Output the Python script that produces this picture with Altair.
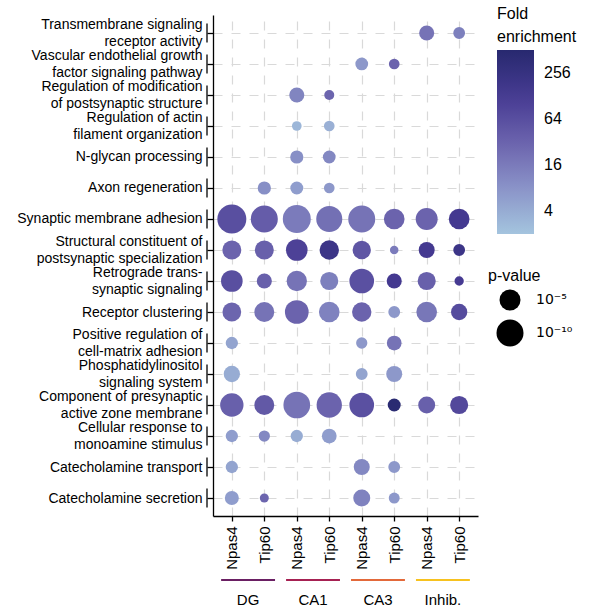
import altair as alt
import pandas as pd

FONT = "Liberation Sans"

# GO terms, top to bottom ("\n" marks where a label wraps)
terms = [
    "Transmembrane signaling\nreceptor activity",
    "Vascular endothelial growth\nfactor signaling pathway",
    "Regulation of modification\nof postsynaptic structure",
    "Regulation of actin\nfilament organization",
    "N-glycan processing",
    "Axon regeneration",
    "Synaptic membrane adhesion",
    "Structural constituent of\npostsynaptic specialization",
    "Retrograde trans-\nsynaptic signaling",
    "Receptor clustering",
    "Positive regulation of\ncell-matrix adhesion",
    "Phosphatidylinositol\nsignaling system",
    "Component of presynaptic\nactive zone membrane",
    "Cellular response to\nmonoamine stimulus",
    "Catecholamine transport",
    "Catecholamine secretion",
]

# comparison columns, left to right
regions = ["DG", "DG", "CA1", "CA1", "CA3", "CA3", "Inhib.", "Inhib."]
genes = ["Npas4", "Tip60", "Npas4", "Tip60", "Npas4", "Tip60", "Npas4", "Tip60"]

groups = ["DG", "CA1", "CA3", "Inhib."]
group_colors = ["#6a1f63", "#a62152", "#e3693a", "#f7c21f"]

N = None
# fold enrichment per term (rows) and column
fold = [
    [N, N, N, N, N, N, 20, 14],
    [N, N, N, N, 7, 32, N, N],
    [N, N, 12, 30, N, N, N, N],
    [N, N, 3, 3.5, N, N, N, N],
    [N, N, 9, 11, N, N, N, N],
    [N, 9, 6, 7, N, N, N, N],
    [64, 40, 16, 22, 20, 32, 32, 140],
    [32, 36, 100, 200, 50, 16, 140, 200],
    [64, 36, 20, 14, 60, 140, 36, 128],
    [30, 20, 32, 13, 32, 7, 18, 70],
    [5, N, N, N, 7, 20, N, N],
    [4, N, N, N, 5, 7, N, N],
    [36, 45, 20, 32, 60, 450, 36, 80],
    [6, 11, 4, 6, N, N, N, N],
    [5, N, N, N, 11, 7, N, N],
    [6, 30, N, N, 13, 7, N, N],
]

# -log10(p-value) per term (rows) and column
neg_log_p = [
    [N, N, N, N, N, N, 2.4, 1.6],
    [N, N, N, N, 1.8, 1.4, N, N],
    [N, N, 2.4, 1.3, N, N, N, N],
    [N, N, 1.25, 1.4, N, N, N, N],
    [N, N, 1.9, 1.8, N, N, N, N],
    [N, 1.9, 1.85, 1.4, N, N, N, N],
    [12.4, 10.0, 11.1, 9.0, 10.0, 4.8, 5.6, 4.8],
    [3.9, 3.9, 5.4, 4.1, 3.6, 1.1, 2.7, 1.6],
    [5.4, 2.4, 4.6, 3.5, 7.7, 2.4, 3.5, 1.2],
    [3.8, 4.4, 6.9, 4.8, 4.1, 1.6, 4.8, 2.8],
    [1.7, N, N, N, 1.5, 2.3, N, N],
    [2.8, N, N, N, 1.6, 2.7, N, N],
    [6.6, 4.4, 9.7, 8.3, 7.7, 1.85, 3.05, 3.5],
    [1.7, 1.5, 1.7, 2.3, N, N, N, N],
    [1.7, N, N, N, 2.7, 1.6, N, N],
    [2.1, 1.16, N, N, 3.05, 1.45, N, N],
]

rows = []
for i, term in enumerate(terms):
    for j in range(len(genes)):
        if fold[i][j] is not None:
            rows.append({"term": term, "col": j, "fold": fold[i][j],
                         "nlp": neg_log_p[i][j]})
df_points = pd.DataFrame(rows)
df_terms = pd.DataFrame({"term": terms})

# each region spans its two columns; bar overhangs a little on both sides
grp_rows = []
for g, name in enumerate(groups):
    first = 2 * g
    grp_rows.append({"group": name, "hex": group_colors[g],
                     "start": first - 0.33, "end": first + 1 + 0.33,
                     "mid": first + 0.5})
df_groups = pd.DataFrame(grp_rows)

W, H = 265, 501
PAD = 0.58
LINE_H = 17
gene_expr = "[" + ",".join("'%s'" % g for g in genes) + "][datum.value]"

x_scale = alt.Scale(domain=[-PAD, len(genes) - 1 + PAD], nice=False, zero=False)
x_axis = alt.Axis(values=list(range(len(genes))), labelExpr=gene_expr,
                  labelAngle=270, labelAlign="right", labelBaseline="middle",
                  labelFontSize=15, labelPadding=5,
                  labelOverlap=False, tickSize=5, grid=True)

# two-line labels are lifted by half a line so the block centres on its tick
wrapped_offset = {
    "condition": {"test": "indexof(datum.value, '\\n') >= 0",
                  "value": -LINE_H / 2},
    "value": 0,
}
y_axis = alt.Axis(labelExpr="split(datum.label, '\\n')",
                  labelFontSize=14, labelLineHeight=LINE_H,
                  labelLimit=400, labelOverlap=False,
                  labelOffset=wrapped_offset,
                  labelPadding=5, tickSize=6, grid=True)

points = alt.Chart(df_points).mark_circle(opacity=1).encode(
    x=alt.X("col:Q", scale=x_scale, title=None, axis=x_axis),
    y=alt.Y("term:N", title=None,
            scale=alt.Scale(type="point", padding=PAD, domain=terms),
            axis=y_axis),
    color=alt.Color("fold:Q",
                    scale=alt.Scale(type="log", domain=[2, 512],
                                    range=["#a4c4de", "#8a93c8", "#6b63ad",
                                           "#463a92", "#27296f"],
                                    interpolate="rgb"),
                    legend=alt.Legend(title=["Fold", "enrichment"],
                                      orient="none", legendX=284, legendY=-9,
                                      values=[4, 16, 64, 256],
                                      gradientLength=184, gradientThickness=37,
                                      gradientStrokeWidth=0,
                                      titleLineHeight=23, labelOffset=10)),
    size=alt.Size("nlp:Q",
                  scale=alt.Scale(type="sqrt", domain=[1, 12], range=[57, 823],
                                  zero=False),
                  legend=alt.Legend(title="p-value", orient="none",
                                    legendX=275, legendY=253,
                                    values=[5, 10],
                                    labelExpr="datum.value == 5 ? '10⁻⁵' : '10⁻¹⁰'",
                                    labelFont="DejaVu Sans", labelFontSize=14,
                                    symbolType="circle",
                                    symbolFillColor="black",
                                    symbolStrokeColor="black",
                                    symbolStrokeWidth=0, symbolOpacity=1,
                                    symbolOffset=8, labelOffset=12,
                                    rowPadding=8)),
)

# small bracket beside each y tick
brackets = alt.Chart(df_terms).mark_rule(
    color="black", strokeWidth=1.3, yOffset=-9.5, y2Offset=9.5
).encode(
    y=alt.Y("term:N", title=None, axis=y_axis),
    y2="term:N",
    x=alt.value(-6),
)

group_bars = alt.Chart(df_groups).mark_rule(strokeWidth=2.2).encode(
    x=alt.X("start:Q", title=None, axis=x_axis),
    x2="end:Q",
    y=alt.value(H + 64),
    stroke=alt.Stroke("hex:N", scale=None),
)

group_labels = alt.Chart(df_groups).mark_text(
    font=FONT, fontSize=15, color="black", baseline="middle"
).encode(
    x=alt.X("mid:Q", title=None, axis=x_axis),
    y=alt.value(H + 84),
    text="group:N",
)

chart = alt.layer(points, brackets, group_bars, group_labels).properties(
    width=W, height=H,
    autosize=alt.AutoSizeParams(type="none"),
    padding={"left": 213, "top": 15, "right": 114, "bottom": 91},
    background="white",
).configure_view(
    stroke=None
).configure_axis(
    labelFont=FONT, labelColor="black", labelOverlap=False,
    domainColor="black", domainWidth=1.3,
    tickColor="black", tickWidth=1.3,
    gridColor="#d9d9d9", gridDash=[9, 9], gridWidth=1.2,
).configure_legend(
    titleFont=FONT, labelFont=FONT, titleFontSize=16, labelFontSize=16,
    titleFontWeight="normal", titleColor="black", labelColor="black",
    padding=0,
)

chart.save("out.html", embed_options={"renderer": "svg", "actions": False})
